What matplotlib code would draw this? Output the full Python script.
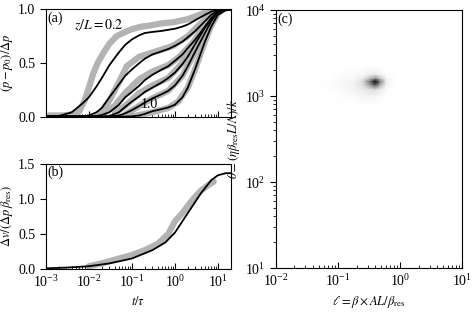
import numpy as np
import matplotlib
matplotlib.use("Agg")
import matplotlib.pyplot as plt

plt.rcParams['font.family'] = 'serif'
plt.rcParams['font.serif'] = ['Liberation Serif', 'DejaVu Serif']
plt.rcParams['mathtext.fontset'] = 'stix'
plt.rcParams['font.size'] = 10

# ---- panel (a): model curves (black), one per depth z/L
t_m1 = [1e-3, 2e-3, 4e-3, 7e-3, 0.01, 0.015, 0.02, 0.03, 0.05, 0.07, 0.1, 0.15, 0.2, 0.3, 0.5, 0.7, 1, 1.5, 2, 3, 5, 7, 10, 15, 20]
p_m1 = [0.0, 0.005, 0.04, 0.12, 0.18, 0.28, 0.36, 0.48, 0.6, 0.67, 0.72, 0.76, 0.78, 0.79, 0.80, 0.81, 0.82, 0.84, 0.86, 0.9, 0.95, 0.98, 1.0, 1.0, 1.0]
t_m2 = [1e-3, 4e-3, 7e-3, 0.01, 0.015, 0.02, 0.03, 0.05, 0.07, 0.1, 0.15, 0.2, 0.3, 0.5, 0.7, 1, 1.5, 2, 3, 5, 7, 10, 15, 20]
p_m2 = [0.0, 0.0, 0.003, 0.01, 0.04, 0.08, 0.18, 0.3, 0.38, 0.44, 0.5, 0.54, 0.58, 0.61, 0.63, 0.66, 0.7, 0.74, 0.8, 0.89, 0.95, 0.99, 1.0, 1.0]
t_m3 = [1e-3, 0.01, 0.015, 0.02, 0.03, 0.05, 0.07, 0.1, 0.15, 0.2, 0.3, 0.5, 0.7, 1, 1.5, 2, 3, 5, 7, 10, 15, 20]
p_m3 = [0.0, 0.0, 0.005, 0.015, 0.04, 0.11, 0.18, 0.23, 0.29, 0.34, 0.39, 0.44, 0.47, 0.52, 0.58, 0.64, 0.72, 0.84, 0.92, 0.98, 1.0, 1.0]
t_m4 = [1e-3, 0.02, 0.03, 0.05, 0.07, 0.1, 0.15, 0.2, 0.3, 0.5, 0.7, 1, 1.5, 2, 3, 5, 7, 10, 15, 20]
p_m4 = [0.0, 0.0, 0.005, 0.04, 0.09, 0.14, 0.19, 0.23, 0.27, 0.32, 0.36, 0.41, 0.49, 0.56, 0.68, 0.83, 0.91, 0.98, 1.0, 1.0]
t_m5 = [1e-3, 0.03, 0.05, 0.07, 0.1, 0.15, 0.2, 0.3, 0.5, 0.7, 1, 1.5, 2, 3, 5, 7, 10, 15, 20]
p_m5 = [0.0, 0.0, 0.01, 0.03, 0.06, 0.1, 0.13, 0.17, 0.21, 0.24, 0.29, 0.38, 0.47, 0.61, 0.78, 0.89, 0.97, 1.0, 1.0]
t_m6 = [1e-3, 0.07, 0.1, 0.15, 0.2, 0.3, 0.5, 0.7, 1, 1.5, 2, 3, 5, 7, 10, 15, 20]
p_m6 = [0.0, 0.0, 0.002, 0.01, 0.025, 0.05, 0.07, 0.085, 0.11, 0.18, 0.27, 0.45, 0.7, 0.84, 0.95, 0.99, 1.0]

# ---- panel (a): measurements (gray)
t_d1 = [1.2e-3, 1.6e-3, 2.5e-3, 4e-3, 6e-3, 8e-3, 0.01, 0.0126, 0.016, 0.0215, 0.03, 0.044, 0.07, 0.107, 0.17, 0.26, 0.5, 0.91, 2, 3.8, 6, 9.3, 12]
p_d1 = [0.01, 0.01, 0.01, 0.02, 0.05, 0.15, 0.27, 0.40, 0.5, 0.59, 0.68, 0.75, 0.79, 0.82, 0.84, 0.85, 0.87, 0.88, 0.91, 0.95, 0.98, 1.0, 1.0]
t_d2 = [0.015, 0.02, 0.03, 0.05, 0.076, 0.15, 0.45, 0.9, 2, 4, 9, 12]
p_d2 = [0.01, 0.05, 0.15, 0.32, 0.47, 0.56, 0.62, 0.66, 0.75, 0.87, 1.0, 1.0]
t_d3 = [0.02, 0.04, 0.07, 0.15, 0.3, 0.7, 1.2, 2.5, 5, 9, 12]
p_d3 = [0.02, 0.1, 0.22, 0.35, 0.42, 0.48, 0.55, 0.68, 0.85, 1.0, 1.0]
t_d4 = [0.04, 0.07, 0.15, 0.3, 0.7, 1.5, 3, 5, 9, 12]
p_d4 = [0.03, 0.1, 0.22, 0.29, 0.36, 0.5, 0.68, 0.82, 0.98, 1.0]
t_d5 = [0.07, 0.15, 0.3, 0.7, 1.5, 2.5, 4, 7, 10, 12]
p_d5 = [0.02, 0.1, 0.17, 0.24, 0.38, 0.55, 0.72, 0.9, 0.98, 1.0]
t_d6 = [0.1, 0.3, 0.7, 1.2, 2, 3, 5, 7, 10, 12]
p_d6 = [0.0, 0.04, 0.08, 0.14, 0.27, 0.45, 0.7, 0.85, 0.96, 0.99]

# ---- panel (b)
t_vm = [1e-3, 3e-3, 0.01, 0.03, 0.1, 0.3, 0.6, 1, 2, 4, 7, 10, 15, 20]
v_vm = [0.01, 0.02, 0.04, 0.08, 0.15, 0.27, 0.38, 0.52, 0.8, 1.08, 1.27, 1.34, 1.37, 1.37]
t_vd = [0.01, 0.02, 0.05, 0.1, 0.2, 0.4, 0.7, 1.0, 1.5, 2.5, 4, 6, 8]
v_vd = [0.04, 0.08, 0.15, 0.2, 0.27, 0.36, 0.5, 0.68, 0.8, 0.98, 1.12, 1.2, 1.25]

# ---- panel (c): density on (ell, theta) grid
ell = [0.05, 0.08, 0.12, 0.18, 0.25, 0.32, 0.40, 0.48, 0.6, 0.8]
theta = [800, 1000, 1200, 1350, 1480, 1620, 1800, 2200]
dens = [
    [0, 0, 0, 0, 0.01, 0.01, 0.01, 0, 0, 0],
    [0, 0, 0.01, 0.02, 0.04, 0.05, 0.04, 0.02, 0, 0],
    [0, 0.01, 0.02, 0.04, 0.08, 0.12, 0.15, 0.08, 0.02, 0],
    [0, 0.01, 0.03, 0.05, 0.12, 0.35, 0.65, 0.3, 0.04, 0],
    [0, 0.01, 0.03, 0.05, 0.14, 0.5, 1.0, 0.5, 0.06, 0],
    [0, 0, 0.02, 0.03, 0.08, 0.22, 0.4, 0.22, 0.03, 0],
    [0, 0, 0.01, 0.02, 0.03, 0.06, 0.08, 0.04, 0.01, 0],
    [0, 0, 0, 0, 0, 0.01, 0.01, 0, 0, 0],
]

fig = plt.figure(figsize=(4.73, 3.15), dpi=100)
ax_a = fig.add_axes([0.097, 0.630, 0.391, 0.340])
ax_b = fig.add_axes([0.097, 0.146, 0.391, 0.333])
ax_c = fig.add_axes([0.583, 0.149, 0.394, 0.819])

gray = '0.7'
for t, p in [(t_d1, p_d1), (t_d2, p_d2), (t_d3, p_d3), (t_d4, p_d4), (t_d5, p_d5), (t_d6, p_d6)]:
    ax_a.plot(t, p, '-', color=gray, lw=4.5, solid_capstyle='round')
for t, p in [(t_m1, p_m1), (t_m2, p_m2), (t_m3, p_m3), (t_m4, p_m4), (t_m5, p_m5), (t_m6, p_m6)]:
    ax_a.plot(t, p, '-', color='k', lw=1.3)
ax_a.set_xscale('log')
ax_a.set_xlim(1e-3, 20)
ax_a.set_ylim(0, 1)
ax_a.set_yticks([0, 0.5, 1.0])
ax_a.set_xticklabels([])
ax_a.set_ylabel(r'$(p-p_0)/\Delta p$', fontsize=9, labelpad=2)
ax_a.text(0.01, 0.985, '(a)', transform=ax_a.transAxes, va='top', ha='left')
ax_a.text(0.017, 0.85, r'$z/L=0.2$', ha='center', va='center')
ax_a.text(0.25, 0.11, '1.0', ha='center', va='center')

ax_b.plot(t_vd, v_vd, '-', color=gray, lw=4.5, solid_capstyle='round')
ax_b.plot(t_vm, v_vm, '-', color='k', lw=1.3)
ax_b.set_xscale('log')
ax_b.set_xlim(1e-3, 20)
ax_b.set_ylim(0, 1.5)
ax_b.set_yticks([0, 0.5, 1.0, 1.5])
ax_b.set_xlabel(r'$t/\tau$', fontsize=9)
ax_b.set_ylabel(r'$\Delta v/(\Delta p\,\beta_{\rm res})$', fontsize=9, labelpad=2)
ax_b.text(0.01, 0.985, '(b)', transform=ax_b.transAxes, va='top', ha='left')

ax_c.pcolormesh(ell, theta, np.array(dens), cmap='gray_r', vmin=0, vmax=1, shading='gouraud')
ax_c.set_xscale('log')
ax_c.set_yscale('log')
ax_c.set_xlim(1e-2, 10)
ax_c.set_ylim(10, 1e4)
ax_c.set_xlabel(r'$\ell=\beta\times AL/\beta_{\rm res}$', fontsize=9)
ax_c.set_ylabel(r'$\theta=(\eta\beta_{\rm res}L/\Lambda)/k$', fontsize=9, labelpad=2)
ax_c.text(0.01, 0.99, '(c)', transform=ax_c.transAxes, va='top', ha='left')

for ax in (ax_a, ax_b, ax_c):
    ax.tick_params(axis='x', which='both', direction='in', top=False)
    ax.tick_params(axis='y', which='both', direction='out', right=False)
    ax.tick_params(which='major', length=4)
    ax.tick_params(which='minor', length=2)

fig.savefig('out.png', dpi=100)
